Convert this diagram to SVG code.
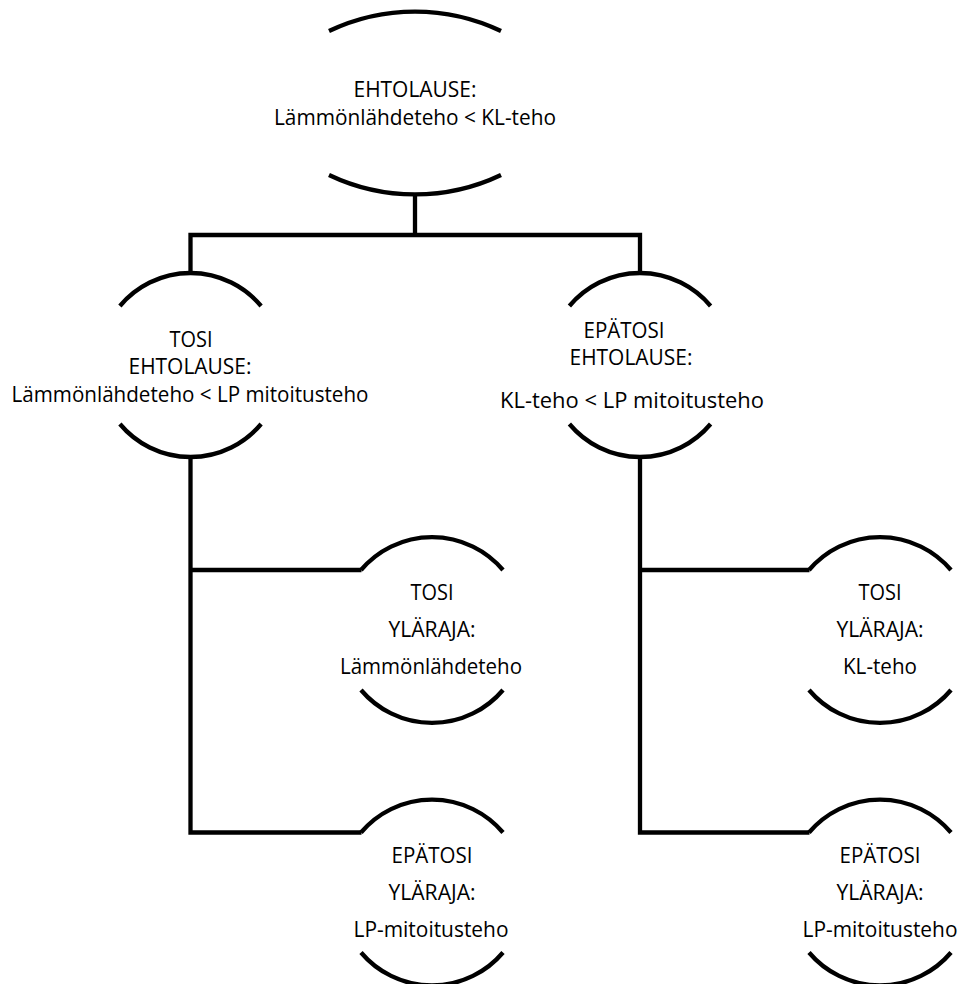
<svg xmlns="http://www.w3.org/2000/svg" width="960" height="984" viewBox="0 0 960 984">
<style>
.sh{fill:none;stroke:#000;stroke-width:4.3}
.cn{fill:none;stroke:#000;stroke-width:4.3;stroke-linejoin:miter}
text{font-family:"Open Sans","Noto Sans",sans-serif;font-size:21px;fill:#000;text-anchor:middle}
</style>
<rect width="960" height="984" fill="#fff"/>
<g id="connectors">
<path class="cn" d="M415,193 V235"/>
<path class="cn" d="M190.5,273 V235 H640 V273"/>
<path class="cn" d="M190.5,457 V832.5 H361.5"/>
<path class="cn" d="M190.5,570 H361.5"/>
<path class="cn" d="M640,457 V832.5 H809.5"/>
<path class="cn" d="M640,570 H809.5"/>
</g>
<g id="n0">
<path class="sh" d="M329,31 A200,200 0 0 1 501,31"/>
<path class="sh" d="M329,175 A200,200 0 0 0 501,175"/>
<text x="415" y="97" textLength="123" lengthAdjust="spacingAndGlyphs">EHTOLAUSE:</text>
<text x="415" y="125" textLength="282" lengthAdjust="spacingAndGlyphs">Lämmönlähdeteho &lt; KL-teho</text>
</g>
<g id="n1">
<path class="sh" d="M119.9,306 A92,92 0 0 1 261.1,306"/>
<path class="sh" d="M119.9,424 A92,92 0 0 0 261.1,424"/>
<text x="191" y="347" textLength="43" lengthAdjust="spacingAndGlyphs">TOSI</text>
<text x="190" y="374" textLength="123" lengthAdjust="spacingAndGlyphs">EHTOLAUSE:</text>
<text x="190" y="402" textLength="357" lengthAdjust="spacingAndGlyphs">Lämmönlähdeteho &lt; LP mitoitusteho</text>
</g>
<g id="n2">
<path class="sh" d="M569.4,306 A92,92 0 0 1 710.6,306"/>
<path class="sh" d="M569.4,424 A92,92 0 0 0 710.6,424"/>
<text x="624" y="338" textLength="81" lengthAdjust="spacingAndGlyphs">EPÄTOSI</text>
<text x="631" y="365" textLength="123" lengthAdjust="spacingAndGlyphs">EHTOLAUSE:</text>
<text x="632" y="408" textLength="264" lengthAdjust="spacingAndGlyphs">KL-teho &lt; LP mitoitusteho</text>
</g>
<g id="n3">
<path class="sh" d="M361,570 A93,93 0 0 1 503,570"/>
<path class="sh" d="M361,690 A93,93 0 0 0 503,690"/>
<text x="432" y="600" textLength="43" lengthAdjust="spacingAndGlyphs">TOSI</text>
<text x="432" y="637" textLength="87" lengthAdjust="spacingAndGlyphs">YLÄRAJA:</text>
<text x="431" y="674" textLength="182" lengthAdjust="spacingAndGlyphs">Lämmönlähdeteho</text>
</g>
<g id="n4">
<path class="sh" d="M361,832.5 A93,93 0 0 1 503,832.5"/>
<path class="sh" d="M361,952.5 A93,93 0 0 0 503,952.5"/>
<text x="432" y="863" textLength="81" lengthAdjust="spacingAndGlyphs">EPÄTOSI</text>
<text x="432" y="900" textLength="87" lengthAdjust="spacingAndGlyphs">YLÄRAJA:</text>
<text x="431" y="937" textLength="155" lengthAdjust="spacingAndGlyphs">LP-mitoitusteho</text>
</g>
<g id="n5">
<path class="sh" d="M809,570 A93,93 0 0 1 951,570"/>
<path class="sh" d="M809,690 A93,93 0 0 0 951,690"/>
<text x="880" y="600" textLength="43" lengthAdjust="spacingAndGlyphs">TOSI</text>
<text x="880" y="637" textLength="87" lengthAdjust="spacingAndGlyphs">YLÄRAJA:</text>
<text x="880" y="674" textLength="74" lengthAdjust="spacingAndGlyphs">KL-teho</text>
</g>
<g id="n6">
<path class="sh" d="M809,832.5 A93,93 0 0 1 951,832.5"/>
<path class="sh" d="M809,952.5 A93,93 0 0 0 951,952.5"/>
<text x="880" y="863" textLength="81" lengthAdjust="spacingAndGlyphs">EPÄTOSI</text>
<text x="880" y="900" textLength="87" lengthAdjust="spacingAndGlyphs">YLÄRAJA:</text>
<text x="880" y="937" textLength="155" lengthAdjust="spacingAndGlyphs">LP-mitoitusteho</text>
</g>
</svg>
